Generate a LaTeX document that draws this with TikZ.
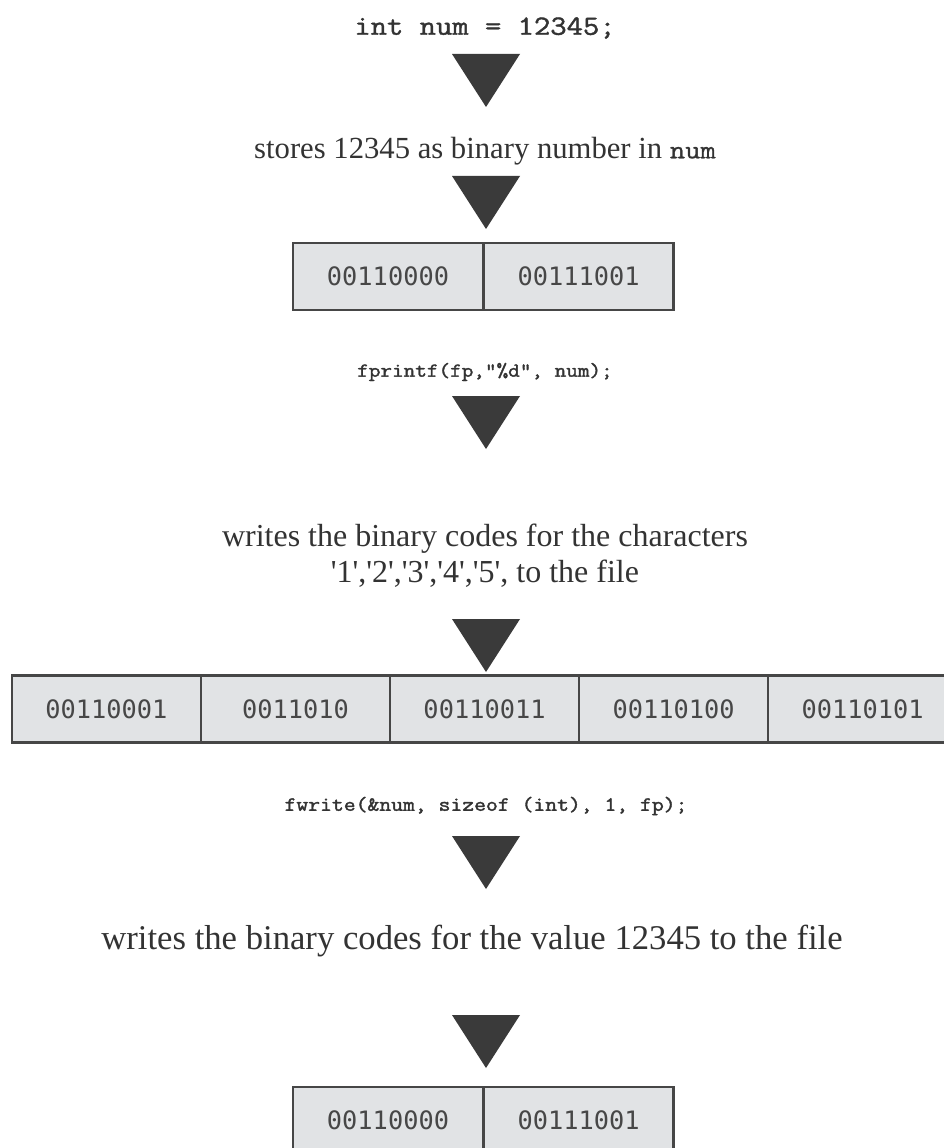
\documentclass[tikz,border=0pt]{standalone}
\usepackage{fontspec}
\usepackage{graphicx}
\setmainfont{Liberation Serif}
\newfontfamily\binfont{DejaVu Sans Mono}
\definecolor{boxfill}{HTML}{E1E3E5}
\definecolor{boxline}{HTML}{464646}
\definecolor{trifill}{HTML}{3A3A3A}
\definecolor{ink}{HTML}{333333}
\newcommand{\wide}[2][0.25]{\scalebox{1.143}[1]{\special{pdf:literal direct 2 Tr #1 w}#2\special{pdf:literal direct 0 Tr}}}
\newcommand{\marker}[2]{\fill[trifill] (#1-34,#2) -- (#1+34,#2) -- (#1,#2+53) -- cycle;}
\begin{document}
\begin{tikzpicture}[x=0.75pt,y=-0.75pt,
  codebig/.style={inner sep=0pt, text=ink, font=\ttfamily\fontsize{20.8}{24}\selectfont},
  code/.style={inner sep=0pt, text=ink, font=\ttfamily\fontsize{14.8}{18}\selectfont},
  txt/.style={inner sep=0pt, text=ink, align=center, font=\fontsize{24}{27}\selectfont},
  cell/.style={draw=boxline, fill=boxfill, line width=2.2pt, minimum width=142.5pt, minimum height=50.25pt, inner sep=0pt, text=ink!90, font=\binfont\fontsize{19}{22}\selectfont},
  bigcell/.style={cell, minimum width=141.75pt}]
\useasboundingbox (0,0) rectangle (944,1148);
\fill[white] (0,0) rectangle (944,1148);

\node[codebig] (c1) at (485,28) {\wide[0.3]{int num = 12345;}};
\marker{486}{54}
\node[txt, font=\fontsize{23}{27}\selectfont] (s1) at (485,151) {stores 12345 as binary number in \wide[0.2]{\ttfamily\fontsize{19.5}{24}\selectfont num}};
\marker{486}{176}
\node[cell] (a1) at (388,276.5) {00110000};
\node[cell] (a2) at (578.5,276.5) {00111001};

\node[code] (c2) at (485,372) {\wide{fprintf(fp,"\%d", num);}};
\marker{486}{396}
\node[txt] (s2) at (485,556) {writes the binary codes for the characters\\
\textquotesingle1\textquotesingle,\textquotesingle2\textquotesingle,\textquotesingle3\textquotesingle,\textquotesingle4\textquotesingle,\textquotesingle5\textquotesingle, to the file};
\marker{486}{619}
\node[bigcell] (b1) at (106.5,709) {00110001};
\node[bigcell] (b2) at (295.5,709) {0011010};
\node[bigcell] (b3) at (484.5,709) {00110011};
\node[bigcell] (b4) at (673.5,709) {00110100};
\node[bigcell] (b5) at (862.5,709) {00110101};

\node[code, font=\ttfamily\fontsize{15.1}{18}\selectfont] (c3) at (486,806) {\wide{fwrite(\&num, sizeof (int), 1, fp);}};
\marker{486}{836}
\node[txt, font=\fontsize{26}{30}\selectfont] (s3) at (472,941) {writes the binary codes for the value 12345 to the file};
\marker{486}{1015}
\node[cell] (d1) at (388,1120.5) {00110000};
\node[cell] (d2) at (578.5,1120.5) {00111001};
\end{tikzpicture}
\end{document}
